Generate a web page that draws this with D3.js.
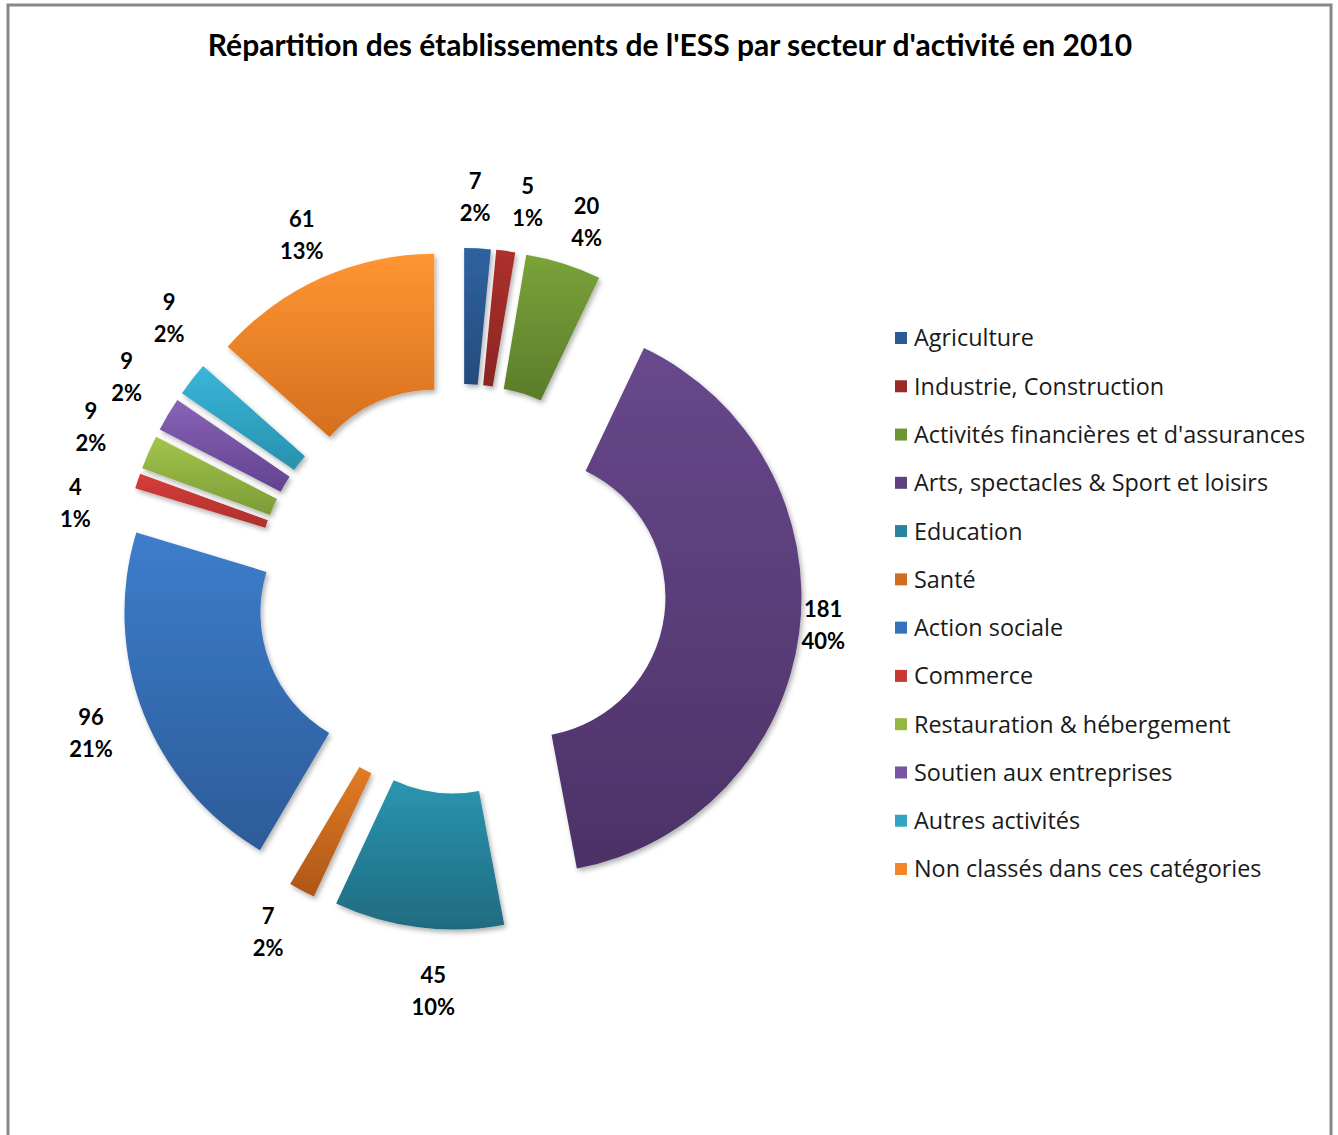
<!DOCTYPE html>
<html>
<head>
<meta charset="utf-8">
<script src="https://cdn.jsdelivr.net/npm/d3@7"></script>
<style>
  html, body { margin: 0; padding: 0; background: #fff; }
  svg { display: block; }
</style>
</head>
<body>
<script>
// ---- Data ----
const categories = [
  "Agriculture",
  "Industrie, Construction",
  "Activités financières et d'assurances",
  "Arts, spectacles & Sport et loisirs",
  "Education",
  "Santé",
  "Action sociale",
  "Commerce",
  "Restauration & hébergement",
  "Soutien aux entreprises",
  "Autres activités",
  "Non classés dans ces catégories"
];
const values = [7, 5, 20, 181, 45, 7, 96, 4, 9, 9, 9, 61];
const percentLabels = ["2%", "1%", "4%", "40%", "10%", "2%", "21%", "1%", "2%", "2%", "2%", "13%"];
const title = "Répartition des établissements de l'ESS par secteur d'activité en 2010";

// ---- Styles / layout (not data) ----
const gradTop = ["#2f62a0", "#ad302d", "#7aa33a", "#68488c", "#2b95b0", "#e27c24", "#3d7dcc", "#d83d3a", "#a3c54c", "#8863b6", "#3ab6d9", "#ff9533"];
const gradBot = ["#244c7c", "#8a2523", "#5b7c2a", "#4c3267", "#1f6b80", "#ad5618", "#2c5c98", "#ae2f2c", "#7b9c36", "#624290", "#2891ad", "#d56f1e"];
const legendColor = ["#2c5a93", "#9a2b28", "#6f9434", "#5e4280", "#26849d", "#cf6e20", "#3671bb", "#c93834", "#93b842", "#7656a3", "#30a5c6", "#f4862a"];
// label placement tweaks: [angle shift in degrees, radius]
const labelTweak = [[-0.7, 392], [2.2, 393], [1.4, 388], [-1.6, 364], [-3.2, 403], [1.5, 394], [0, 397], [-5.9, 395], [0, 404], [1.6, 396], [4.9, 398], [0, 388]];

const W = 1338, H = 1135;
const cx = 461, cy = 589, rOuter = 276, rInner = 140, explode = 65;

const svg = d3.select("body").append("svg").attr("width", W).attr("height", H);

// frame
svg.append("rect").attr("x", 8).attr("y", 5).attr("width", 1323).attr("height", H + 20)
  .attr("fill", "#fff").attr("stroke", "#878787").attr("stroke-width", 3);

svg.append("text").attr("x", 670).attr("y", 56).attr("text-anchor", "middle")
  .attr("font-family", "Lato, 'Open Sans', sans-serif").attr("font-weight", "bold")
  .attr("font-size", 30).attr("fill", "#000").text(title);

const defs = svg.append("defs");
const filt = defs.append("filter").attr("id", "shadow").attr("x", "-20%").attr("y", "-20%").attr("width", "140%").attr("height", "140%");
filt.append("feDropShadow").attr("dx", 2).attr("dy", 3).attr("stdDeviation", 2.5).attr("flood-color", "#000").attr("flood-opacity", 0.3);

categories.forEach((c, i) => {
  const g = defs.append("linearGradient").attr("id", "g" + i).attr("x1", 0).attr("y1", 0).attr("x2", 0).attr("y2", 1);
  g.append("stop").attr("offset", "0%").attr("stop-color", gradTop[i]);
  g.append("stop").attr("offset", "100%").attr("stop-color", gradBot[i]);
});

const pie = d3.pie().sort(null).value(d => d).startAngle(0).endAngle(2 * Math.PI);
const arcs = pie(values);
const arc = d3.arc().innerRadius(rInner).outerRadius(rOuter);

const gPie = svg.append("g").attr("transform", `translate(${cx},${cy})`);
gPie.selectAll("path.slice").data(arcs).enter().append("path")
  .attr("class", "slice")
  .attr("transform", d => {
    const a = (d.startAngle + d.endAngle) / 2;
    return `translate(${explode * Math.sin(a)},${-explode * Math.cos(a)})`;
  })
  .attr("d", arc)
  .attr("fill", (d, i) => `url(#g${i})`)
  .attr("filter", "url(#shadow)");

// labels
const lab = gPie.selectAll("g.lab").data(arcs).enter().append("g").attr("class", "lab")
  .attr("transform", (d, i) => {
    const a = (d.startAngle + d.endAngle) / 2 + labelTweak[i][0] * Math.PI / 180;
    const r = labelTweak[i][1];
    return `translate(${r * Math.sin(a)},${-r * Math.cos(a)})`;
  });
lab.append("text").attr("y", -16).attr("dy", "0.36em").attr("text-anchor", "middle")
  .attr("font-family", "Lato, 'Open Sans', sans-serif").attr("font-weight", "bold").attr("font-size", 22)
  .text((d, i) => values[i]);
lab.append("text").attr("y", 16).attr("dy", "0.36em").attr("text-anchor", "middle")
  .attr("font-family", "Lato, 'Open Sans', sans-serif").attr("font-weight", "bold").attr("font-size", 22)
  .text((d, i) => percentLabels[i]);

// legend
const legY = d3.scalePoint().domain(categories).range([338, 869]);
const leg = svg.append("g").selectAll("g").data(categories).enter().append("g")
  .attr("transform", d => `translate(895,${legY(d)})`);
leg.append("rect").attr("x", 0).attr("y", -6).attr("width", 12).attr("height", 12)
  .attr("fill", (d, i) => legendColor[i]);
leg.append("text").attr("x", 19).attr("dy", "0.36em")
  .attr("font-family", "'Open Sans', sans-serif").attr("font-size", 23.4).attr("fill", "#1a1a1a")
  .text(d => d);
</script>
</body>
</html>
